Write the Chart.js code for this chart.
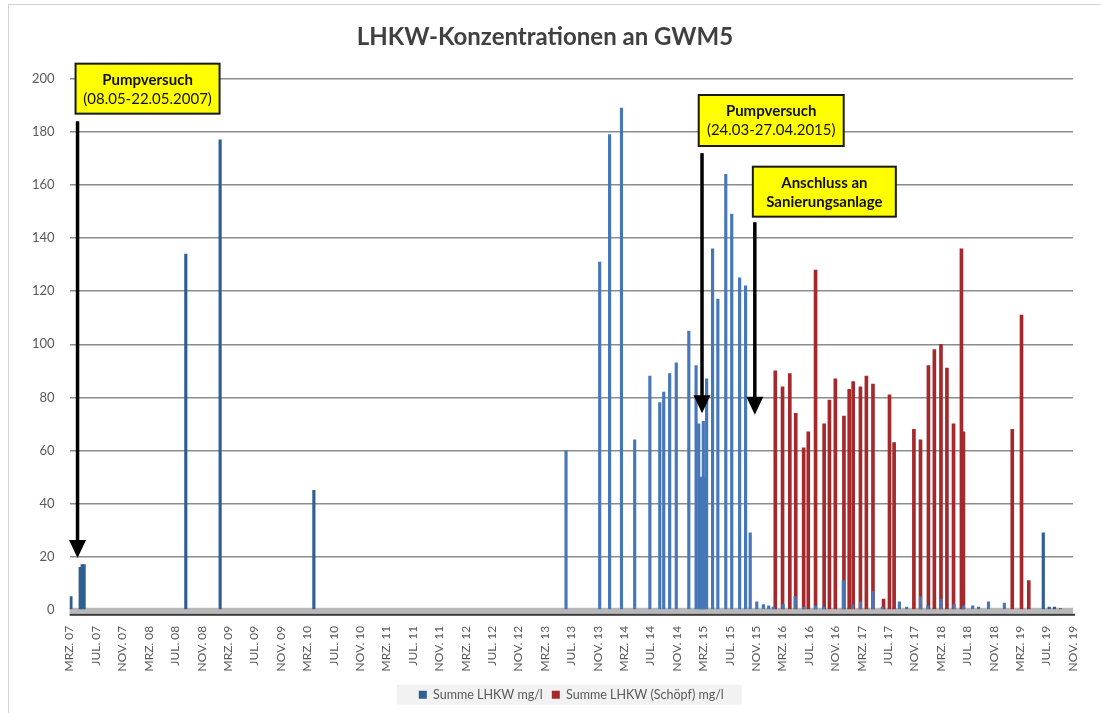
<!DOCTYPE html>
<html>
<head>
<meta charset="utf-8">
<title>LHKW-Konzentrationen an GWM5</title>
<script src="https://cdn.jsdelivr.net/npm/chart.js@4.4.1/dist/chart.umd.min.js"></script>
<style>
    html, body { margin: 0; padding: 0; background: #fff; overflow: hidden; }
    #frame { position: absolute; left: 8px; top: 4px; width: 1200px; height: 800px; border: 1px solid #d4d4d4; }
    #wrap { position: absolute; left: 0; top: 0; width: 1101px; height: 713px; }
</style>
</head>
<body>
<div id="frame"></div>
<div id="wrap"><canvas id="chart" width="1101" height="713"></canvas></div>
<script>
// x values are months since March 2007 (MRZ. 07 = 0)
const tickLabels = [
    'MRZ. 07', 'JUL. 07', 'NOV. 07', 'MRZ. 08', 'JUL. 08', 'NOV. 08', 'MRZ. 09', 'JUL. 09', 'NOV. 09',
    'MRZ. 10', 'JUL. 10', 'NOV. 10', 'MRZ. 11', 'JUL. 11', 'NOV. 11', 'MRZ. 12', 'JUL. 12', 'NOV. 12',
    'MRZ. 13', 'JUL. 13', 'NOV. 13', 'MRZ. 14', 'JUL. 14', 'NOV. 14', 'MRZ. 15', 'JUL. 15', 'NOV. 15',
    'MRZ. 16', 'JUL. 16', 'NOV. 16', 'MRZ. 17', 'JUL. 17', 'NOV. 17', 'MRZ. 18', 'JUL. 18', 'NOV. 18',
    'MRZ. 19', 'JUL. 19', 'NOV. 19'
];

// Summe LHKW mg/l
const blueMonths = [
    0.2, 1.6, 1.9, 2.2, 17.6, 22.8, 37.0,
    75.2, 80.3, 81.8, 83.6, 85.6, 87.9, 89.4, 90.0, 90.9, 91.9, 93.8, 94.9,
    95.3, 95.5, 95.7, 95.9, 96.0, 96.2, 96.5, 97.4, 98.2, 99.4, 100.3, 101.5, 102.4, 103.1,
    104.1, 105.1, 105.9, 106.6, 108.1, 109.9, 111.2, 113.0, 114.2, 117.2, 118.6, 119.8,
    121.7, 123.1, 125.7, 126.8, 128.9, 130.0, 132.0, 134.0, 135.4, 136.8, 137.7, 139.2,
    141.6, 147.5, 148.4, 149.2, 150.1
];
const blueValues = [
    5, 16, 17, 17, 134, 177, 45,
    60, 131, 179, 189, 64, 88, 78, 82, 89, 93, 105, 92,
    70, 50, 49, 50, 71, 50, 87, 136, 117, 164, 149, 125, 122, 29,
    3, 2, 1.5, 1, 2, 5, 1, 1.5, 1, 11, 2, 3,
    7, 1, 3, 1, 5, 1.5, 4, 2, 1.5, 1.5, 1, 3,
    2.5, 29, 1, 1, 0.5
];

// Summe LHKW (Schöpf) mg/l
const redMonths = [
    106.9, 108.0, 109.1, 110.0, 111.2, 111.9, 113.0, 114.3, 115.1, 116.0,
    117.3, 118.1, 118.7, 119.8, 120.7, 121.7, 123.3, 124.2, 124.9,
    127.9, 128.9, 130.1, 131.0, 132.0, 132.9, 133.9, 135.1, 135.4,
    142.8, 144.2, 145.3
];
const redValues = [
    90, 84, 89, 74, 61, 67, 128, 70, 79, 87,
    73, 83, 86, 84, 88, 85, 4, 81, 63,
    68, 64, 92, 98, 100, 91, 70, 136, 67,
    68, 111, 11
];

// yellow callouts: box position in axis units, arrow in axis units
const callouts = [
    { lines: ['Pumpversuch', '(08.05-22.05.2007)'], boldSecond: false, boxX: 0.9, boxY: 205.7, w: 144, h: 50, arrowX: 1.2, arrowTop: 184, arrowTip: 19.5 },
    { lines: ['Pumpversuch', '(24.03-27.04.2015)'], boldSecond: false, boxX: 95.3, boxY: 193.9, w: 145, h: 51, arrowX: 95.8, arrowTop: 172, arrowTip: 74 },
    { lines: ['Anschluss an', 'Sanierungsanlage'], boldSecond: true, boxX: 103.5, boxY: 166.9, w: 143, h: 50, arrowX: 103.8, arrowTop: 146, arrowTip: 73.5 }
];

const FONT = 'Lato, "Open Sans", sans-serif';

function toPoints(xs, ys) {
    return xs.map((x, i) => ({x: x, y: ys[i]}));
}

const floorPlugin = {
    id: 'floor',
    beforeDatasetsDraw(chart) {
        const {ctx, chartArea} = chart;
        const y0 = chart.scales.y.getPixelForValue(0);
        ctx.save();
        ctx.fillStyle = '#b8b8b8';
        ctx.fillRect(chartArea.left, y0 - 2, chartArea.right - chartArea.left, 6);
        ctx.fillStyle = '#3a3a3a';
        ctx.fillRect(chartArea.left, y0 + 4, chartArea.right - chartArea.left + 2, 2);
        ctx.restore();
    }
};

const legendBgPlugin = {
    id: 'legendBg',
    beforeDraw(chart) {
        const lg = chart.legend;
        if (!lg || !lg.legendHitBoxes || !lg.legendHitBoxes.length) return;
        const boxes = lg.legendHitBoxes;
        const left = Math.min(...boxes.map(b => b.left)) - 22;
        const right = Math.max(...boxes.map(b => b.left + b.width)) + 18;
        const cy = boxes[0].top + boxes[0].height / 2;
        const ctx = chart.ctx;
        ctx.save();
        ctx.fillStyle = '#f2f2f2';
        ctx.fillRect(left, cy - 10, right - left, 20);
        ctx.restore();
    }
};

const calloutPlugin = {
    id: 'callouts',
    afterDraw(chart) {
        const ctx = chart.ctx;
        const xs = chart.scales.x, ys = chart.scales.y;
        ctx.save();
        callouts.forEach(c => {
            // arrow
            const ax = xs.getPixelForValue(c.arrowX);
            const top = ys.getPixelForValue(c.arrowTop);
            const tip = ys.getPixelForValue(c.arrowTip);
            ctx.strokeStyle = '#000';
            ctx.lineWidth = 3.5;
            ctx.beginPath();
            ctx.moveTo(ax, top);
            ctx.lineTo(ax, tip - 16);
            ctx.stroke();
            ctx.fillStyle = '#000';
            ctx.beginPath();
            ctx.moveTo(ax - 8.5, tip - 18);
            ctx.lineTo(ax + 8.5, tip - 18);
            ctx.lineTo(ax, tip);
            ctx.closePath();
            ctx.fill();
            // box
            const bx = xs.getPixelForValue(c.boxX);
            const by = ys.getPixelForValue(c.boxY);
            ctx.fillStyle = '#ffff00';
            ctx.fillRect(bx, by, c.w, c.h);
            ctx.strokeStyle = '#1a1a1a';
            ctx.lineWidth = 2;
            ctx.strokeRect(bx, by, c.w, c.h);
            ctx.fillStyle = '#111';
            ctx.textAlign = 'center';
            ctx.textBaseline = 'middle';
            const cx = bx + c.w / 2;
            ctx.font = 'bold 15px ' + FONT;
            ctx.fillText(c.lines[0], cx, by + c.h / 2 - 9);
            ctx.font = (c.boldSecond ? 'bold ' : '') + '15px ' + FONT;
            ctx.fillText(c.lines[1], cx, by + c.h / 2 + 10);
        });
        ctx.restore();
    }
};

const chart = new Chart(document.getElementById('chart'), {
    type: 'bar',
    data: {
        datasets: [
            {
                label: 'Summe LHKW mg/l',
                data: toPoints(blueMonths, blueValues),
                backgroundColor: ctx => (ctx.raw && (ctx.raw.x < 40 || ctx.raw.x > 147)) ? '#2f5f90' : '#4677b8',
                borderWidth: 0,
                barThickness: 2.5,
                grouped: false
            },
            {
                label: 'Summe LHKW (Schöpf) mg/l',
                data: toPoints(redMonths, redValues),
                backgroundColor: '#a3292d',
                borderWidth: 0,
                barThickness: 3,
                grouped: false
            }
        ]
    },
    options: {
        responsive: false,
        animation: false,
        layout: { padding: { left: 17, right: 28, top: 0, bottom: 2 } },
        scales: {
            x: {
                type: 'linear',
                min: 0,
                max: 152,
                offset: false,
                grid: { display: false, offset: false },
                border: { display: false },
                ticks: {
                    stepSize: 4,
                    autoSkip: false,
                    maxRotation: 90,
                    minRotation: 90,
                    padding: 8,
                    color: '#595959',
                    font: { family: FONT, size: 12 },
                    callback: v => tickLabels[Math.round(v / 4)] || ''
                }
            },
            y: {
                min: 0,
                max: 200,
                grid: { color: '#8c8c8c', lineWidth: 1.5, drawTicks: false },
                border: { display: false },
                ticks: {
                    stepSize: 20,
                    padding: 15,
                    color: '#595959',
                    font: { family: FONT, size: 13 }
                }
            }
        },
        plugins: {
            title: {
                display: true,
                text: 'LHKW-Konzentrationen an GWM5',
                color: '#404040',
                font: { family: FONT, size: 24, weight: 'bold' },
                padding: { top: 23, bottom: 27 }
            },
            legend: {
                position: 'bottom',
                fullSize: false,
                labels: {
                    boxWidth: 8,
                    boxHeight: 8,
                    padding: 9,
                    color: '#595959',
                    font: { family: FONT, size: 12.5 }
                }
            },
            tooltip: { enabled: false }
        }
    },
    plugins: [floorPlugin, legendBgPlugin, calloutPlugin]
});
</script>
</body>
</html>
